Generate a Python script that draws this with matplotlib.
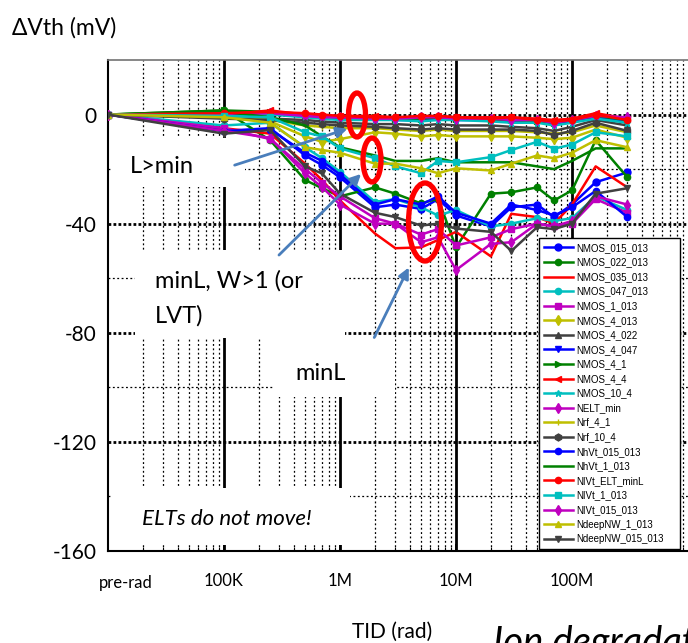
import matplotlib
matplotlib.use("Agg")
import matplotlib.pyplot as plt
from matplotlib.patches import Rectangle, Ellipse, FancyArrowPatch
from matplotlib.transforms import ScaledTranslation

W, H = 688, 643

# dose points (rad); first one is the "pre-rad" measurement, drawn at 1e4
dose = [1e4, 1e5, 2.5e5, 5e5, 7e5, 1e6, 2e6, 3e6, 5e6, 7e6, 1e7, 2e7, 3e7, 5e7, 7e7, 1e8, 1.6e8, 3e8]

# delta Vth in mV
nmos_015_013 = [0, -6, -5, -15, -18.5, -23, -34, -33, -34.6, -31, -37, -41, -34, -33, -37.6, -33, -24.8, -21.2]
nmos_022_013 = [0, 1.5, -9.4, -24, -27, -30, -26.7, -29, -32.6, -30.8, -48.7, -29, -28.5, -26.7, -31.5, -27.8, -9.4, -23]
nmos_035_013 = [0, -5, -7, -18, -24, -31.5, -43.6, -49, -48.7, -46, -43, -52, -36.4, -37.6, -40, -33, -19, -26.7]
nmos_047_013 = [0, -4, -3, -12, -16, -21, -32, -31, -34, -37, -35, -41, -40, -38, -39, -38, -30, -35]
nmos_1_013 = [0, -5, -9, -20, -25, -30, -38, -40, -44, -42, -48, -45, -42, -40, -41, -40, -31, -36]
nmos_4_013 = [0, -1, -2.5, -8, -10, -9, -6.5, -7, -8, -7.5, -8, -8, -8, -8.5, -9, -8.5, -5.5, -8.5]
nmos_4_022 = [0, -1, -1.5, -2, -2.5, -3, -3.5, -3.5, -4, -3.5, -4, -4, -4.5, -5, -6, -4.5, -2, -4]
nmos_4_047 = [0, -0.5, 0.5, -0.5, -1, -1.5, -1.5, -2, -2, -1.5, -2, -2, -2.5, -2.5, -3.5, -2.5, -1, -2.5]
nmos_4_1 = [0, 1.5, 1, 0, -0.5, -1, -1, -1.5, -1.5, -1, -1.5, -2, -2, -2.5, -3, -2, -0.5, -2]
nmos_4_4 = [0, 0, 1.5, 0, -0.5, -0.5, -0.5, -1, -1, -0.5, -1, -1, -1, -1.5, -2, -1.5, 0.5, -1.5]
nmos_10_4 = [0, -0.5, 0, -1, -1.5, -2, -2, -2, -2.5, -2, -2, -2.5, -3, -3, -4, -3, -1.5, -3]
nelt_min = [0, 0, 0.5, -0.5, -1, -1, -1.5, -1.5, -1, -1, -1.5, -1.5, -2, -2, -3, -2, -0.5, -1]
nrf_4_1 = [0, -1, -2, -4, -4.5, -5, -5, -5.5, -6, -5.5, -6, -6, -6, -6.5, -7, -6.5, -4, -6.5]
nrf_10_4 = [0, -1.5, -2, -3, -3.5, -4, -4.5, -5, -5.5, -5, -5.5, -5.5, -5.5, -6, -7.5, -6, -3, -6]
nhvt_015_013 = [0, -6, -5.5, -14, -17, -22, -33, -31, -33, -30, -36, -40, -33, -35, -37, -34, -28, -37.6]
nhvt_1_013 = [0, 1, -1, -4, -8, -12, -15, -17, -17, -16, -17.5, -17.5, -17.5, -19, -20, -17, -12.4, -12.4]
nivt_elt_minl = [0, 0.5, 1, 0.5, 0, -0.5, -1, -1, -0.5, -0.5, -1, -1.5, -1, -2, -2.5, -2, 0, -2]
nivt_1_013 = [0, -0.5, -1, -6.5, -8, -12.4, -16, -19, -21.5, -17, -17.5, -15.6, -13, -10, -12.5, -11, -6.5, -8]
nivt_015_013 = [0, -6, -8.6, -21.6, -26.6, -33, -40, -40, -46.8, -45, -57, -47.4, -46.8, -40, -41, -39, -30, -33]
ndeepnw_1_013 = [0, -1, -3, -12, -13, -14, -18, -18, -19.7, -21.5, -19.7, -20.5, -18, -15, -16, -14, -9.4, -12]
ndeepnw_015_013 = [0, -7, -5.7, -19, -21.6, -29, -36, -37.6, -40.7, -40, -41.8, -43, -50, -41.3, -42, -40, -29, -27]

labels = ["NMOS_015_013", "NMOS_022_013", "NMOS_035_013", "NMOS_047_013", "NMOS_1_013",
          "NMOS_4_013", "NMOS_4_022", "NMOS_4_047", "NMOS_4_1", "NMOS_4_4", "NMOS_10_4",
          "NELT_min", "Nrf_4_1", "Nrf_10_4", "NhVt_015_013", "NhVt_1_013", "NIVt_ELT_minL",
          "NIVt_1_013", "NIVt_015_013", "NdeepNW_1_013", "NdeepNW_015_013"]
series = [nmos_015_013, nmos_022_013, nmos_035_013, nmos_047_013, nmos_1_013,
          nmos_4_013, nmos_4_022, nmos_4_047, nmos_4_1, nmos_4_4, nmos_10_4,
          nelt_min, nrf_4_1, nrf_10_4, nhvt_015_013, nhvt_1_013, nivt_elt_minl,
          nivt_1_013, nivt_015_013, ndeepnw_1_013, ndeepnw_015_013]

x_ticks = [1e5, 1e6, 1e7, 1e8]
x_ticklabels = ["100K", "1M", "10M", "100M"]
y_ticks = [0, -40, -80, -120, -160]

# matlab-ish colour order
B, G, R, C, M, Y, K = "#0000FF", "#008000", "#FF0000", "#00BFBF", "#BF00BF", "#BFBF00", "#404040"
colors = [B, G, R, C, M, Y, K, B, G, R, C, M, Y, K, B, G, R, C, M, Y, K]
markers = ["o", ".", "", ".", "s", "d", "^", "v", ">", "<", "*", "d", "+", "h",
           ".", "", ".", "s", "d", "^", "v"]

SLIDE_FONT = ["Lato", "DejaVu Sans"]
LEG_FONT = "Liberation Sans"


def fx(x):
    return x / W


def fy(y):
    return 1 - y / H


fig = plt.figure(figsize=(W / 100, H / 100), dpi=100)
ax = fig.add_axes([fx(108), fy(551), 580 / W, 491 / H])
ax.set_xscale("log")
ax.set_xlim(1e4, 1e9)
ax.set_ylim(-160, 20)

# grid, drawn by hand to get the thick major / dotted minor look
for d in x_ticks:
    ax.axvline(d, color="k", lw=2.0, zorder=1)
for dec in [1e4, 1e5, 1e6, 1e7, 1e8]:
    for m in range(2, 10):
        ax.axvline(m * dec, color="k", lw=0.9, ls=(0, (1.5, 2)), zorder=1)
for yv in [0, -40, -80, -120]:
    ax.axhline(yv, color="k", lw=2.0, ls=(0, (1, 0.8)), zorder=1)
for yv in [-20, -60, -100, -140]:
    ax.axhline(yv, color="k", lw=0.9, ls=(0, (1.5, 2)), zorder=1)

handles = []
for vals, lab, c, mk in zip(series, labels, colors, markers):
    ms = 9 if mk == "." else 5
    (ln,) = ax.plot(dose, vals, color=c, lw=1.8, marker=mk, ms=ms, label=lab, zorder=3)
    handles.append(ln)

ax.set_xticks(x_ticks)
ax.set_xticklabels(x_ticklabels, fontsize=12, family=SLIDE_FONT)
shift = ScaledTranslation(-5 / 100, 0, fig.dpi_scale_trans)
for t in ax.get_xticklabels():
    t.set_transform(t.get_transform() + shift)
ax.set_yticks(y_ticks)
ax.set_yticklabels([str(v) for v in y_ticks], fontsize=15, family=SLIDE_FONT)
ax.tick_params(axis="x", which="both", direction="in", pad=16, length=5, width=1.2)
ax.tick_params(axis="x", which="minor", length=3, width=0.8)
ax.tick_params(axis="y", direction="in", pad=8, length=0)
for s in ["left", "bottom"]:
    ax.spines[s].set_linewidth(1.5)
    ax.spines[s].set_color("k")
ax.spines["top"].set_color("0.45")
ax.spines["top"].set_linewidth(1.2)
ax.spines["right"].set_visible(False)

leg = ax.legend(handles=handles, loc="lower left", bbox_to_anchor=(0.743, 0.004, 0.243, 0.62),
                mode="expand", borderaxespad=0, prop={"family": LEG_FONT, "size": 7},
                frameon=True, fancybox=False, framealpha=1, edgecolor="k",
                handlelength=3.0, handletextpad=0.3, labelspacing=0.47, borderpad=0.5)
leg.get_frame().set_linewidth(1.0)
leg.set_zorder(10)

# white text boxes of the slide sitting on top of the chart
for (x0, y0, x1, y1) in [(112, 138, 245, 187), (135, 250, 345, 338),
                         (273, 338, 395, 397), (112, 488, 350, 545)]:
    fig.add_artist(Rectangle((fx(x0), fy(y1)), fx(x1 - x0), (y1 - y0) / H,
                             transform=fig.transFigure, facecolor="white",
                             edgecolor="none", zorder=5))

fig.text(fx(130), fy(173), "L>min", fontsize=17, family=SLIDE_FONT, zorder=6)
fig.text(fx(155), fy(288), "minL, W>1 (or", fontsize=17, family=SLIDE_FONT, zorder=6)
fig.text(fx(155), fy(323), "LVT)", fontsize=17, family=SLIDE_FONT, zorder=6)
fig.text(fx(295), fy(380), "minL", fontsize=17, family=SLIDE_FONT, zorder=6)
fig.text(fx(142), fy(525), "ELTs do not move!", fontsize=16, family=SLIDE_FONT,
         style="italic", zorder=6)

# arrows and red rings drawn on the slide
arrow_col = "#4A7EBB"
for (a, b) in [((232, 166), (350, 128)), ((277, 257), (363, 172)), ((373, 340), (410, 265))]:
    fig.add_artist(FancyArrowPatch((fx(a[0]), fy(a[1])), (fx(b[0]), fy(b[1])),
                                   transform=fig.transFigure, arrowstyle="-|>",
                                   mutation_scale=16, color=arrow_col, lw=2, zorder=7))
for (cx, cy, w, h) in [(357, 115, 17, 44), (372, 160, 18, 44), (425, 222, 33, 78)]:
    fig.add_artist(Ellipse((fx(cx), fy(cy)), w / W, h / H, transform=fig.transFigure,
                           fill=False, edgecolor="#FF0000", lw=3.8, zorder=8))

# slide texts around the chart
fig.text(fx(126), fy(588), "pre-rad", fontsize=12, family=SLIDE_FONT, ha="center")
fig.text(fx(12), fy(35), "\u0394Vth (mV)", fontsize=16.5, family=SLIDE_FONT)
fig.text(fx(392), fy(638), "TID (rad)", fontsize=15, family=SLIDE_FONT, ha="center")
fig.text(fx(493), fy(654), "Ion degradation", fontsize=27.5, family=SLIDE_FONT, style="italic")
fig.text(fx(415), fy(-1), "New 130nm", fontsize=20, family=SLIDE_FONT, ha="center",
         va="baseline")

fig.savefig("out.png", dpi=100)
